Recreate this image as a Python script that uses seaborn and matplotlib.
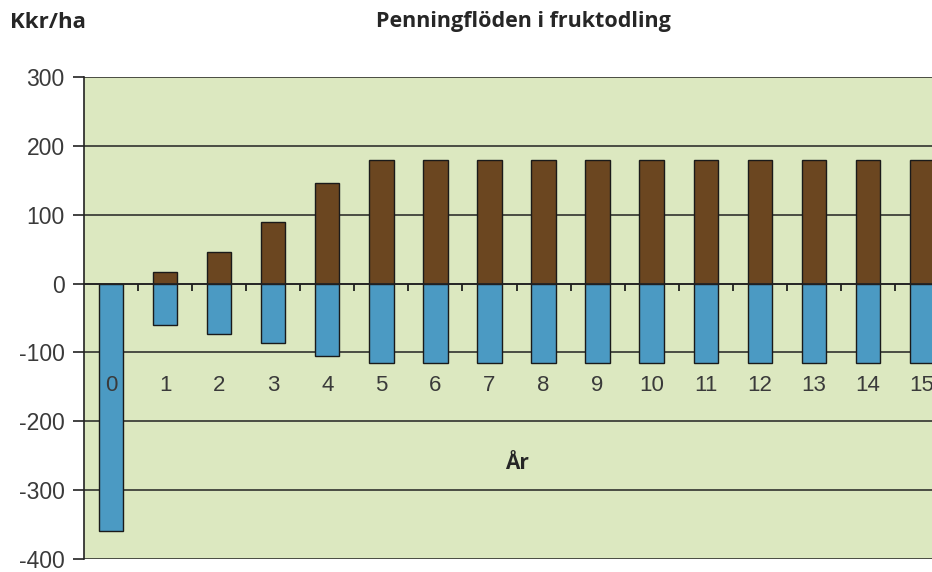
import numpy as np
import pandas as pd
import matplotlib
matplotlib.use("Agg")
import matplotlib.pyplot as plt
import seaborn as sns

# ==============================
# DATA (Kkr/ha per year)
# ==============================
years = ["0", "1", "2", "3", "4", "5", "6", "7", "8", "9", "10", "11", "12", "13", "14", "15"]
intakter = [0, 17, 46, 90, 146, 179, 179, 179, 179, 179, 179, 179, 179, 179, 179, 179]
kostnader = [-360, -60, -73, -86, -105, -116, -116, -116, -116, -116, -116, -116, -116, -116, -116, -116]
y_ticks = [300, 200, 100, 0, -100, -200, -300, -400]

df = pd.DataFrame({"År": years, "Intäkter": intakter, "Kostnader": kostnader})

# ==============================
# STYLE
# ==============================
sns.set_style("white")
plt.rcParams["font.family"] = ["Liberation Sans", "DejaVu Sans"]
plt.rcParams["axes.unicode_minus"] = False

bg = "#DCE8C0"
brown = "#6B4620"
blue = "#4B9AC3"
text_col = "#3A3A3A"
head_font = ["Open Sans", "DejaVu Sans"]

fig = plt.figure(figsize=(9.32, 5.72), dpi=100)
ax = fig.add_axes([84 / 932, 13 / 572, 865 / 932, 482 / 572])
ax.set_facecolor(bg)

# grid lines behind bars
for v in y_ticks:
    ax.axhline(v, color="#222222", lw=1.1, zorder=0)

sns.barplot(data=df, x="År", y="Intäkter", order=years, color=brown,
            width=0.45, edgecolor="#1a1a1a", linewidth=1.0, saturation=1,
            ax=ax, zorder=2)
sns.barplot(data=df, x="År", y="Kostnader", order=years, color=blue,
            width=0.45, edgecolor="#1a1a1a", linewidth=1.0, saturation=1,
            ax=ax, zorder=2)

ax.set_xlim(-0.5, len(years) - 0.5)
ax.set_ylim(-400, 300)
ax.set_yticks(y_ticks)
ax.tick_params(axis="y", length=8, width=1.2, color="#222222", pad=6,
               labelsize=16.5, labelcolor=text_col, direction="out", left=True)

# x axis sits on the zero line, small ticks between categories
ax.spines["bottom"].set_position(("data", 0))
ax.spines["bottom"].set_zorder(3)
ax.set_xticks(np.arange(len(years) - 1) + 0.5)
ax.set_xticklabels([])
ax.tick_params(axis="x", length=5, width=1.2, color="#111111", direction="out", bottom=True)
ax.set_xlabel("")
ax.set_ylabel("")

for s in ["left", "bottom"]:
    ax.spines[s].set_color("#222222")
    ax.spines[s].set_linewidth(1.2)
ax.spines["top"].set_visible(False)
ax.spines["right"].set_visible(False)

# category labels inside plot
for i, yr in enumerate(years):
    ax.text(i, -148, yr, ha="center", va="center", fontsize=16,
            color=text_col, zorder=4)

ax.text(0.5, (-262 + 400) / 700, "År", transform=ax.transAxes, ha="center",
        va="center", fontsize=15, fontweight="bold", family=head_font)

fig.text(10 / 932, 1 - 22 / 572, "Kkr/ha", ha="left", va="center", fontsize=16,
         fontweight="bold", family=head_font)
fig.text(523 / 932, 1 - 22 / 572, "Penningflöden i fruktodling", ha="center",
         va="center", fontsize=15.5, fontweight="bold", family=head_font)

fig.savefig("out.png", dpi=100, facecolor="white")
